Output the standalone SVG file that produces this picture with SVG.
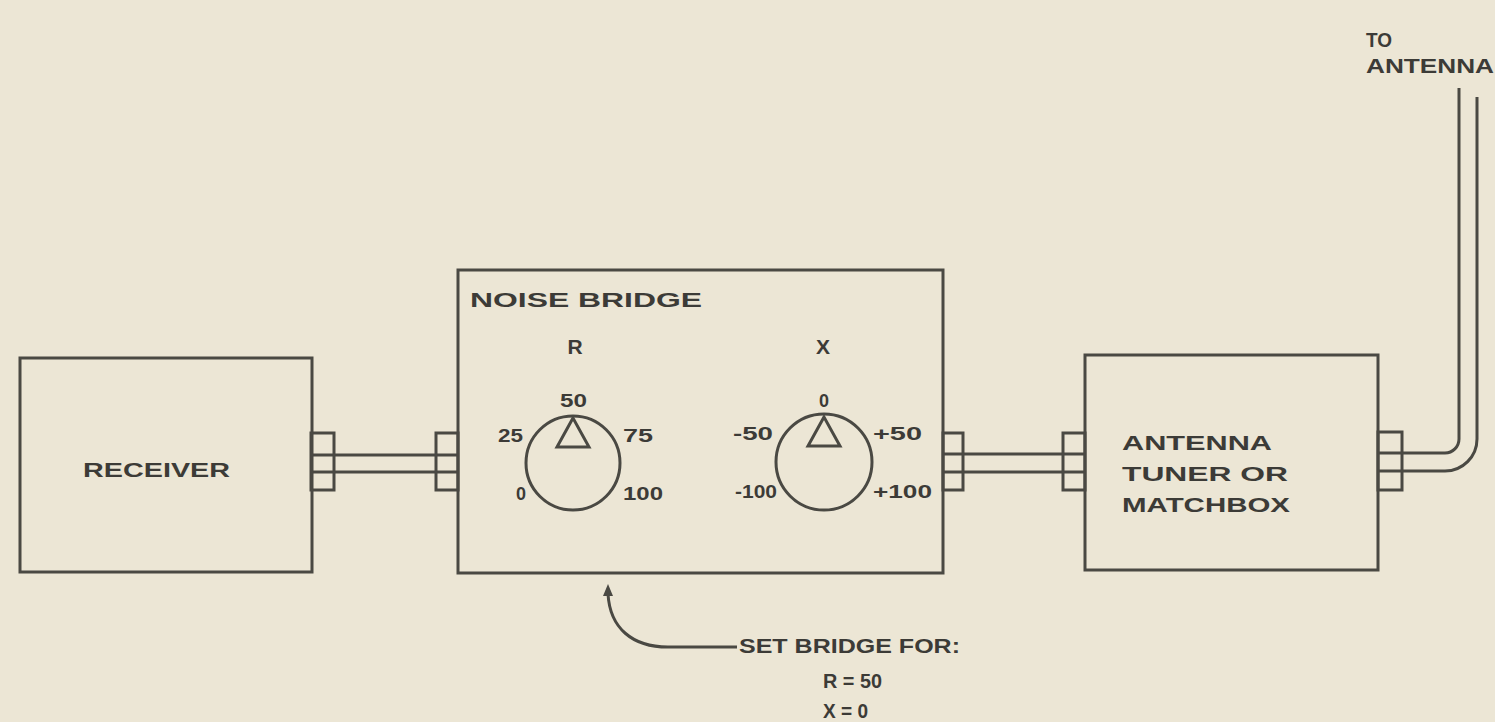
<svg xmlns="http://www.w3.org/2000/svg" width="1495" height="722" viewBox="0 0 1495 722">
<defs>
<style>
.bg{fill:#ece6d5}
.box{fill:none;stroke:#4a4943;stroke-width:3}
.ln{fill:none;stroke:#4a4943;stroke-width:3}
.t{font-family:"Liberation Sans",Arial,sans-serif;fill:#3c3b37;font-size:21px;font-weight:bold}
.s{font-family:"Liberation Sans",Arial,sans-serif;fill:#3c3b37;font-size:18px;font-weight:bold}
</style>
</defs>
<rect class="bg" x="0" y="0" width="1495" height="722"/>

<g id="connectors">
<path class="ln" d="M312,455 H458 M312,472 H458"/>
<rect class="box" x="311" y="433" width="23" height="57"/>
<rect class="box" x="436" y="433" width="22" height="57"/>
<path class="ln" d="M943,454 H1085 M943,472 H1085"/>
<rect class="box" x="943" y="433" width="20" height="57"/>
<rect class="box" x="1063" y="433" width="22" height="57"/>
<rect class="box" x="1378" y="432" width="24" height="58"/>
<path class="ln" d="M1378,453 H1445 A14,14 0 0 0 1459,439 V88"/>
<path class="ln" d="M1378,471 H1445 A32,32 0 0 0 1477,439 V97"/>
<path class="ln" d="M737,647 H668 C632,647 610,628 608,594"/>
<polygon points="608,584 603,596 613,596" fill="#4a4943"/>
</g>

<g id="receiver">
<rect class="box" x="20" y="358" width="292" height="214"/>
<text class="t" x="83" y="477" textLength="147" lengthAdjust="spacingAndGlyphs">RECEIVER</text>
</g>

<g id="noise-bridge">
<rect class="box" x="458" y="270" width="485" height="303"/>
<text class="t" x="470" y="307" textLength="232" lengthAdjust="spacingAndGlyphs">NOISE BRIDGE</text>
<text class="t" x="575" y="354" text-anchor="middle">R</text>
<text class="t" x="823" y="354" text-anchor="middle">X</text>
<g id="r-dial">
<circle class="ln" cx="573" cy="463" r="47"/>
<polygon class="ln" points="573,418 557,447 589,447"/>
<text class="s" x="560" y="407" textLength="27" lengthAdjust="spacingAndGlyphs">50</text>
<text class="s" x="498" y="442" textLength="25" lengthAdjust="spacingAndGlyphs">25</text>
<text class="s" x="623" y="442" textLength="30" lengthAdjust="spacingAndGlyphs">75</text>
<text class="s" x="516" y="500">0</text>
<text class="s" x="623" y="500" textLength="40" lengthAdjust="spacingAndGlyphs">100</text>
</g>
<g id="x-dial">
<circle class="ln" cx="824" cy="462" r="48"/>
<polygon class="ln" points="824,417 808,446 840,446"/>
<text class="s" x="824" y="407" text-anchor="middle">0</text>
<text class="s" x="733" y="440" textLength="40" lengthAdjust="spacingAndGlyphs">-50</text>
<text class="s" x="873" y="440" textLength="49" lengthAdjust="spacingAndGlyphs">+50</text>
<text class="s" x="735" y="498" textLength="42" lengthAdjust="spacingAndGlyphs">-100</text>
<text class="s" x="873" y="498" textLength="59" lengthAdjust="spacingAndGlyphs">+100</text>
</g>
</g>

<g id="antenna-tuner">
<rect class="box" x="1085" y="355" width="293" height="215"/>
<text class="t" x="1122" y="450" textLength="150" lengthAdjust="spacingAndGlyphs">ANTENNA</text>
<text class="t" x="1122" y="481" textLength="166" lengthAdjust="spacingAndGlyphs">TUNER OR</text>
<text class="t" x="1122" y="512" textLength="168" lengthAdjust="spacingAndGlyphs">MATCHBOX</text>
</g>

<g id="to-antenna">
<text class="t" x="1366" y="47" textLength="26" lengthAdjust="spacingAndGlyphs">TO</text>
<text class="t" x="1366" y="73" textLength="128" lengthAdjust="spacingAndGlyphs">ANTENNA</text>
</g>

<g id="note">
<text class="t" x="739" y="653" textLength="221" lengthAdjust="spacingAndGlyphs">SET BRIDGE FOR:</text>
<text class="t" x="823" y="688" textLength="59" lengthAdjust="spacingAndGlyphs">R = 50</text>
<text class="t" x="823" y="718" textLength="45" lengthAdjust="spacingAndGlyphs">X = 0</text>
</g>
</svg>
